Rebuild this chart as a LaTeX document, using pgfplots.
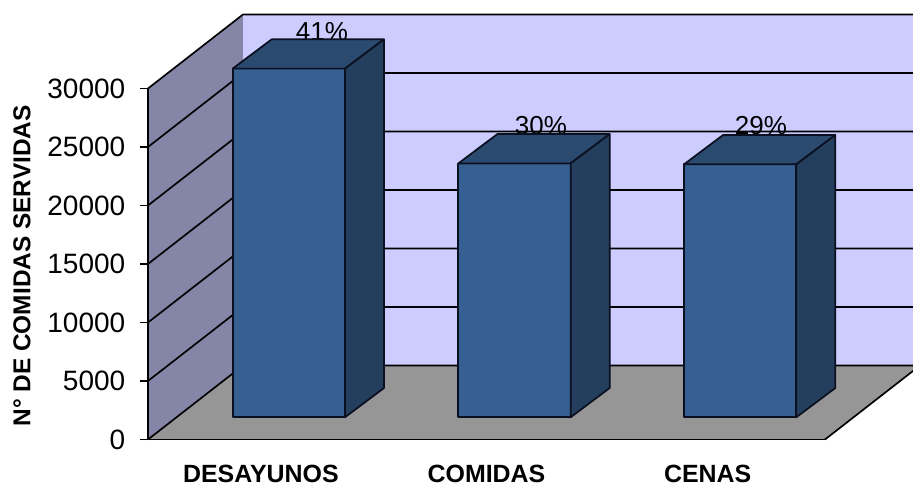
\documentclass[border=0pt]{standalone}
\usepackage{fontspec}
\setmainfont{Liberation Sans}
\usepackage{pgfplots}
\pgfplotsset{compat=1.18}
\definecolor{wallback}{HTML}{CCCCFF}
\definecolor{wallside}{HTML}{8585A8}
\definecolor{floorgray}{HTML}{969696}
\definecolor{barfront}{HTML}{366092}
\definecolor{bartop}{HTML}{2A4A70}
\definecolor{barside}{HTML}{243F5E}
\definecolor{edge}{HTML}{0A1020}
\tikzset{
  gridln/.style={black,line width=1.25pt},
  barface/.style={fill=#1,draw=edge,line width=1.3pt,line join=round,shift={(21pt,16.65pt)}},
  pct/.style={anchor=base,font=\fontsize{19.5}{21}\selectfont},
}
\begin{document}
\begin{tikzpicture}[x=0.75pt,y=0.75pt]
\useasboundingbox (-148,-48.5) rectangle (765,439.5);
\begin{axis}[
  at={(0,0)},
  anchor=south west,
  scale only axis,
  width=573.75pt,
  height=329.625pt,
  xmin=0, xmax=3.39,
  ymin=0, ymax=37564,
  clip=false,
  axis line style={draw=none},
  tick align=outside,
  ytick={0,5000,10000,15000,20000,25000,30000},
  xtick={0.5,1.5,2.48},
  xticklabels={DESAYUNOS,COMIDAS,CENAS},
  extra x ticks={0,1,2,3},
  extra x tick labels={},
  extra x tick style={major tick length=6pt,tick style={black,line width=0.8pt}},
  x tick style={draw=none},
  y tick style={black,line width=0.8pt},
  major tick length=6pt,
  scaled y ticks=false,
  /pgf/number format/fixed,
  /pgf/number format/1000 sep={},
  /pgf/number format/assume math mode=true,
  yticklabel style={font=\fontsize{21}{23}\selectfont,xshift=-7.5pt},
  xticklabel style={font=\bfseries\fontsize{18.7}{21}\selectfont,inner ysep=0pt,anchor=base,text height=13.4pt,text depth=0pt,yshift=-26.5pt},
  ylabel={N° DE COMIDAS SERVIDAS},
  every axis y label/.style={at={(axis description cs:-0.1647,0.395)},rotate=90,anchor=center,font=\bfseries\fontsize{18.3}{20}\selectfont},
  every axis plot/.append style={no markers},
]
% walls and floor
\addplot[fill=wallside,draw=none] coordinates {(0,0)(0.421,6325)(0.421,36325)(0,30000)} -- cycle;
\addplot[fill=wallback,draw=none] coordinates {(0.421,6325)(3.421,6325)(3.421,36325)(0.421,36325)} -- cycle;
\addplot[fill=floorgray,draw=none] coordinates {(0,0)(3,0)(3.421,6325)(0.421,6325)} -- cycle;
% gridlines, side wall then back wall
\addplot[gridln] coordinates {(0,0)(0.421,6325)(3.421,6325)};
\addplot[gridln] coordinates {(0,5000)(0.421,11325)(3.421,11325)};
\addplot[gridln] coordinates {(0,10000)(0.421,16325)(3.421,16325)};
\addplot[gridln] coordinates {(0,15000)(0.421,21325)(3.421,21325)};
\addplot[gridln] coordinates {(0,20000)(0.421,26325)(3.421,26325)};
\addplot[gridln] coordinates {(0,25000)(0.421,31325)(3.421,31325)};
\addplot[gridln] coordinates {(0,30000)(0.421,36325)(3.421,36325)};
% front axis lines
\addplot[gridln] coordinates {(0,30000)(0,0)(3,0)};
\addplot[gridln] coordinates {(3,0)(3.421,6325)};
% percentages, the bars sit over them
\node[pct] at (axis cs:0.771,34105) {41\%};
\node[pct] at (axis cs:1.741,26105) {30\%};
\node[pct] at (axis cs:2.716,26105) {29\%};
% DESAYUNOS
\addplot[barface=barfront] coordinates {(0.2512,0)(0.2512,29800)(0.7488,29800)(0.7488,0)} -- cycle;
\addplot[barface=bartop] coordinates {(0.2512,29800)(0.4240,32304)(0.9216,32304)(0.7488,29800)} -- cycle;
\addplot[barface=barside] coordinates {(0.7488,0)(0.9216,2504)(0.9216,32304)(0.7488,29800)} -- cycle;
% COMIDAS
\addplot[barface=barfront] coordinates {(1.2512,0)(1.2512,21700)(1.7488,21700)(1.7488,0)} -- cycle;
\addplot[barface=bartop] coordinates {(1.2512,21700)(1.4240,24204)(1.9216,24204)(1.7488,21700)} -- cycle;
\addplot[barface=barside] coordinates {(1.7488,0)(1.9216,2504)(1.9216,24204)(1.7488,21700)} -- cycle;
% CENAS
\addplot[barface=barfront] coordinates {(2.2512,0)(2.2512,21620)(2.7488,21620)(2.7488,0)} -- cycle;
\addplot[barface=bartop] coordinates {(2.2512,21620)(2.4240,24124)(2.9216,24124)(2.7488,21620)} -- cycle;
\addplot[barface=barside] coordinates {(2.7488,0)(2.9216,2504)(2.9216,24124)(2.7488,21620)} -- cycle;
\end{axis}
\end{tikzpicture}
\end{document}
